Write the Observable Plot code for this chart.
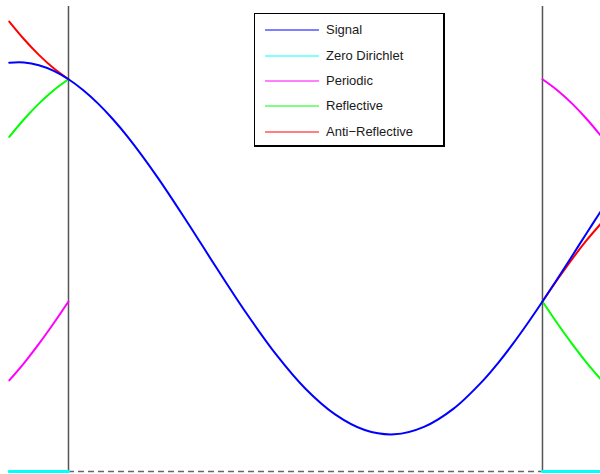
<!DOCTYPE html>
<html>
<head>
<meta charset="utf-8">
<script src="https://cdn.jsdelivr.net/npm/d3@7"></script>
<script src="https://cdn.jsdelivr.net/npm/@observablehq/plot@0.6"></script>
<style>
  html, body { margin: 0; padding: 0; background: #fff; }
  #wrap { position: relative; width: 600px; height: 474px; overflow: hidden; }
  #legend {
    position: absolute; left: 254px; top: 13px; width: 191px; height: 134px;
    box-sizing: border-box; border: 1px solid #000; border-right-width: 2px; border-bottom-width: 2px;
    background: #fff; font-family: "Liberation Sans", Arial, Helvetica, sans-serif; font-size: 13px; color: #1a1a1a;
  }
  #legend svg { position: absolute; left: 0; top: 0; }
  .lb { position: absolute; left: 71px; white-space: nowrap; line-height: 16px; }
</style>
</head>
<body>
<div id="wrap">
  <div id="chart"></div>
  <div id="legend"></div>
</div>
<script>
// ---- data ----
const tSignal = [-0.125, -0.09375, -0.0625, -0.03125, 0, 0.03125, 0.0625, 0.09375, 0.125, 0.1875, 0.25,
                 0.3125, 0.375, 0.4375, 0.5, 0.5625, 0.625, 0.6875, 0.75, 0.8125, 0.875, 0.90625,
                 0.9375, 0.96875, 1, 1.03125, 1.0625, 1.09375, 1.125];
const signal  = [2.198, 2.199, 2.184, 2.154, 2.109, 2.050, 1.978, 1.894, 1.799, 1.583, 1.343,
                 1.094, 0.852, 0.631, 0.445, 0.307, 0.223, 0.200, 0.240, 0.338, 0.490, 0.583,
                 0.686, 0.797, 0.914, 1.035, 1.159, 1.284, 1.407];

const tLeft  = [-0.125, -0.09375, -0.0625, -0.03125, 0];
const tRight = [1, 1.03125, 1.0625, 1.09375, 1.125];

const zeroLeft      = [0, 0, 0, 0, 0];
const zeroRight     = [0, 0, 0, 0, 0];
const periodicLeft  = [0.490, 0.583, 0.686, 0.797, 0.914];
const periodicRight = [2.109, 2.050, 1.978, 1.894, 1.799];
const reflectLeft   = [1.799, 1.894, 1.978, 2.050, 2.109];
const reflectRight  = [0.914, 0.797, 0.686, 0.583, 0.490];
const antiLeft      = [2.419, 2.324, 2.240, 2.168, 2.109];
const antiRight     = [0.914, 1.031, 1.142, 1.245, 1.338];

const boundaries = [0, 1];
const seriesNames  = ["Signal", "Zero Dirichlet", "Periodic", "Reflective", "Anti\u2212Reflective"];
const seriesColors = ["#0000ff", "#00ffff", "#ff00ff", "#00ff00", "#ff0000"];

// ---- build tables ----
const pts = (ts, ys) => ts.map((t, i) => ({t, y: ys[i]}));
const sig = pts(tSignal, signal);
const ext = [
  {color: seriesColors[1], parts: [pts(tLeft, zeroLeft), pts(tRight, zeroRight)]},
  {color: seriesColors[2], parts: [pts(tLeft, periodicLeft), pts(tRight, periodicRight)]},
  {color: seriesColors[3], parts: [pts(tLeft, reflectLeft), pts(tRight, reflectRight)]},
  {color: seriesColors[4], parts: [pts(tLeft, antiLeft), pts(tRight, antiRight)]}
];

const marks = [
  Plot.ruleX(boundaries, {y1: 0, y2: 2.5, stroke: "#555", strokeWidth: 1.5}),
  Plot.ruleY([0], {x1: boundaries[0], x2: boundaries[1], stroke: "#666", strokeWidth: 1.5, strokeDasharray: "6,4"})
];
ext.forEach((s, k) => {
  s.parts.forEach(p => {
    marks.push(Plot.line(p, {x: "t", y: "y", stroke: s.color, strokeWidth: k === 0 ? 3 : 2, curve: "catmull-rom"}));
  });
});
marks.push(Plot.line(sig, {x: "t", y: "y", stroke: seriesColors[0], strokeWidth: 2, curve: "catmull-rom"}));

const chart = Plot.plot({
  width: 600,
  height: 474,
  marginLeft: 8.75,
  marginRight: 0,
  marginTop: 6,
  marginBottom: 3,
  x: {domain: [-0.125, 1.1224], axis: null},
  y: {domain: [0, 2.5], axis: null},
  marks
});
document.getElementById("chart").appendChild(chart);

// ---- legend ----
const legend = d3.select("#legend");
const rowTops = [16, 42, 67, 92, 118];
const sw = legend.append("svg").attr("width", 188).attr("height", 131);
seriesNames.forEach((n, i) => {
  sw.append("line").attr("x1", 10).attr("x2", 64).attr("y1", rowTops[i]).attr("y2", rowTops[i])
    .attr("stroke", seriesColors[i]).attr("stroke-width", 1.2);
  legend.append("div").attr("class", "lb").style("top", (rowTops[i] - 8.5) + "px").text(n);
});
</script>
</body>
</html>
